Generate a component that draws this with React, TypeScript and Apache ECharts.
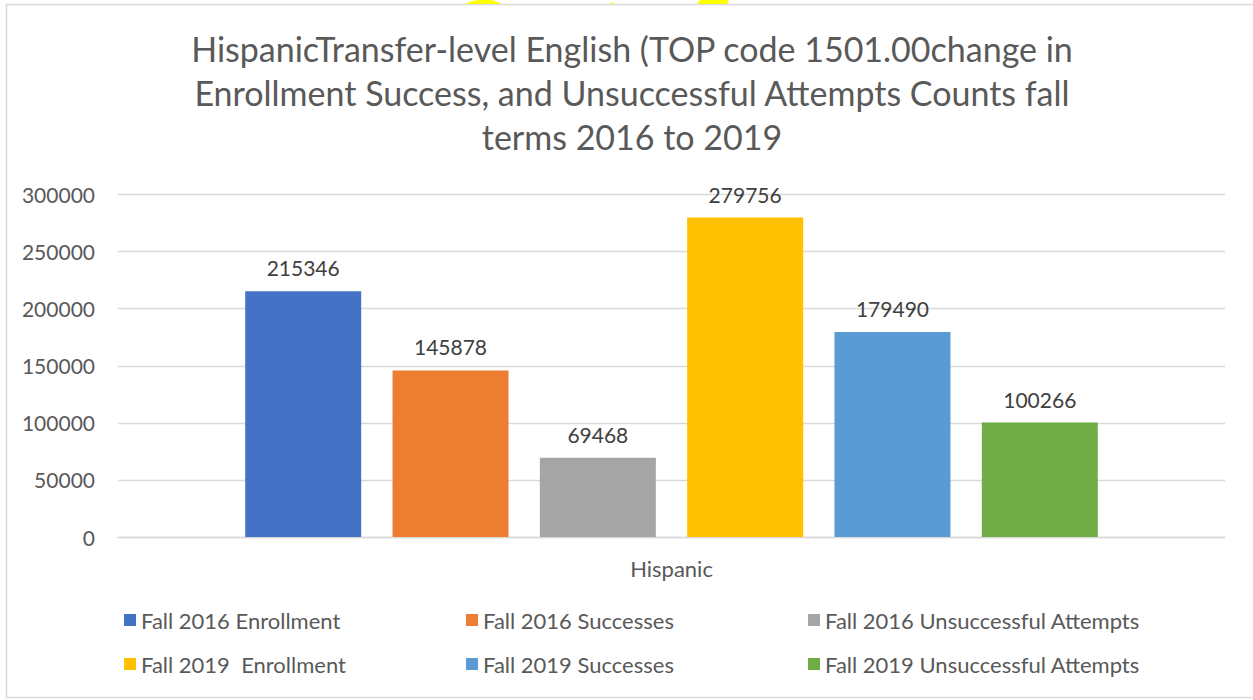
import React, { useEffect, useRef } from "react";
import * as echarts from "echarts";

const categories = ["Hispanic"];
const seriesNames = [
  "Fall 2016 Enrollment",
  "Fall 2016 Successes",
  "Fall 2016 Unsuccessful Attempts",
  "Fall 2019  Enrollment",
  "Fall 2019 Successes",
  "Fall 2019 Unsuccessful Attempts",
];
const seriesValues = [215346, 145878, 69468, 279756, 179490, 100266];
const seriesColors = ["#4472C4", "#ED7D31", "#A5A5A5", "#FFC000", "#5B9BD5", "#70AD47"];
const yTicks = [0, 50000, 100000, 150000, 200000, 250000, 300000];

const FONT = "Lato, Carlito, Calibri, 'Noto Sans', sans-serif";

export default function App() {
  const ref = useRef<HTMLDivElement>(null);
  useEffect(() => {
    document.body.style.margin = "0";
    const chart = echarts.init(ref.current!, null, { renderer: "svg" });
    const legendPos = [
      [124, 609],
      [466, 609],
      [808, 609],
      [124, 653],
      [466, 653],
      [808, 653],
    ];
    chart.setOption({
      animation: false,
      backgroundColor: "#ffffff",
      textStyle: { fontFamily: FONT },
      title: {
        text:
          "HispanicTransfer-level English (TOP code 1501.00change in\nEnrollment Success, and Unsuccessful Attempts Counts fall\nterms 2016 to 2019",
        left: 632,
        textAlign: "center",
        top: 26,
        padding: 0,
        textStyle: {
          fontFamily: FONT,
          fontSize: 34,
          fontWeight: "normal",
          color: "#595959",
          lineHeight: 44,
        },
      },
      legend: seriesNames.map((n, i) => ({
        data: [n],
        left: legendPos[i][0],
        top: legendPos[i][1],
        padding: 0,
        itemWidth: 12,
        itemHeight: 12,
        itemGap: 5,
        icon: "rect",
        selectedMode: false,
        textStyle: { fontFamily: FONT, fontSize: 22, color: "#595959" },
      })),
      grid: { left: 118, right: 28, top: 194.5, bottom: 163, containLabel: false },
      xAxis: {
        type: "category",
        data: categories,
        axisLine: { lineStyle: { color: "#D9D9D9", width: 1.3 } },
        axisTick: { show: false },
        axisLabel: { fontFamily: FONT, fontSize: 22, color: "#595959", margin: 20 },
      },
      yAxis: {
        type: "value",
        min: yTicks[0],
        max: yTicks[yTicks.length - 1],
        interval: 50000,
        axisLine: { show: false },
        axisTick: { show: false },
        splitLine: { lineStyle: { color: "#D9D9D9", width: 1.3 } },
        axisLabel: {
          fontFamily: FONT,
          fontSize: 21,
          color: "#595959",
          margin: 23,
          formatter: (v: number) => String(v),
        },
      },
      series: seriesNames.map((n, i) => ({
        name: n,
        type: "bar",
        data: [seriesValues[i]],
        barWidth: 116,
        barGap: "27%",
        itemStyle: { color: seriesColors[i] },
        label: {
          show: true,
          position: "top",
          distance: 13,
          fontFamily: FONT,
          fontSize: 21,
          color: "#404040",
        },
      })),
      graphic: [
        {
          type: "rect",
          shape: { x: 6.5, y: 4.5, width: 1260, height: 693 },
          style: { fill: "none", stroke: "#D9D9D9", lineWidth: 1.5 },
          silent: true,
        },
        {
          type: "polygon",
          shape: { points: [[465, 4], [472, 1], [480, 0], [492, 0], [502, 4]] },
          style: { fill: "#FFFF00" },
          silent: true,
        },
        {
          type: "polygon",
          shape: { points: [[610, 4], [612, 2], [614, 4]] },
          style: { fill: "#FFFF00" },
          silent: true,
        },
        {
          type: "polygon",
          shape: { points: [[697, 4], [700, 0], [729, 0], [727, 4]] },
          style: { fill: "#FFFF00" },
          silent: true,
        },
      ],
    });
    return () => chart.dispose();
  }, []);
  return <div ref={ref} style={{ width: 1253, height: 700 }} />;
}
